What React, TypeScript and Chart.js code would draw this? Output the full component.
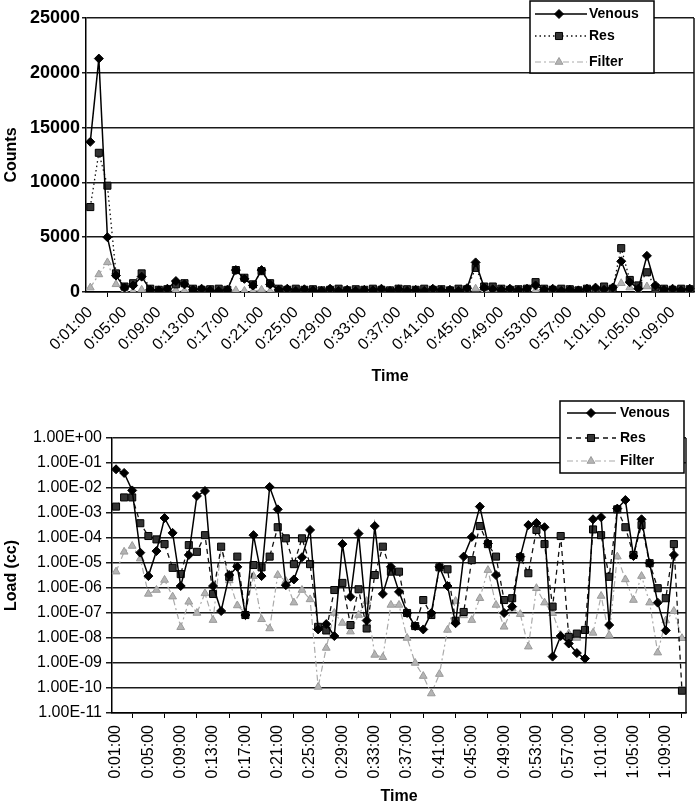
import React, { useEffect, useRef } from 'react';
import { Chart, registerables } from 'chart.js';
import { drawPoint } from 'chart.js/helpers';

Chart.register(...registerables);

const timeLabels = [
  '0:01:00', '0:02:00', '0:03:00', '0:04:00', '0:05:00', '0:06:00', '0:07:00', '0:08:00', '0:09:00', '0:10:00',
  '0:11:00', '0:12:00', '0:13:00', '0:14:00', '0:15:00', '0:16:00', '0:17:00', '0:18:00', '0:19:00', '0:20:00',
  '0:21:00', '0:22:00', '0:23:00', '0:24:00', '0:25:00', '0:26:00', '0:27:00', '0:28:00', '0:29:00', '0:30:00',
  '0:31:00', '0:32:00', '0:33:00', '0:34:00', '0:35:00', '0:36:00', '0:37:00', '0:38:00', '0:39:00', '0:40:00',
  '0:41:00', '0:42:00', '0:43:00', '0:44:00', '0:45:00', '0:46:00', '0:47:00', '0:48:00', '0:49:00', '0:50:00',
  '0:51:00', '0:52:00', '0:53:00', '0:54:00', '0:55:00', '0:56:00', '0:57:00', '0:58:00', '0:59:00', '1:00:00',
  '1:01:00', '1:02:00', '1:03:00', '1:04:00', '1:05:00', '1:06:00', '1:07:00', '1:08:00', '1:09:00', '1:10:00',
  '1:11:00',
];

// Top chart: Counts
const countsVenous = [
  13700, 21300, 5000, 1500, 400, 600, 1400, 200, 150, 300,
  1000, 700, 200, 300, 150, 100, 200, 2000, 1200, 600,
  2000, 700, 200, 300, 100, 250, 150, 100, 300, 100,
  200, 100, 200, 150, 300, 100, 250, 100, 200, 100,
  300, 150, 200, 100, 350, 2700, 400, 250, 200, 300,
  150, 300, 600, 200, 300, 100, 200, 150, 300, 400,
  200, 400, 2800, 900, 300, 3300, 600, 200, 300, 150,
  300,
];
const countsRes = [
  7750, 12700, 9700, 1700, 500, 800, 1700, 300, 200, 250,
  700, 800, 300, 200, 250, 300, 200, 2000, 1300, 700,
  1900, 800, 300, 200, 300, 200, 250, 150, 200, 300,
  150, 250, 200, 300, 200, 150, 300, 250, 200, 300,
  200, 250, 150, 300, 250, 2200, 500, 500, 300, 200,
  250, 300, 900, 300, 200, 300, 250, 150, 300, 200,
  500, 300, 4000, 1100, 600, 1800, 400, 300, 200, 300,
  250,
];
const countsFilter = [
  400, 1600, 2700, 700, 150, 50, 200, 50, 100, 50,
  150, 80, 50, 100, 60, 120, 50, 150, 100, 60,
  200, 80, 50, 100, 60, 120, 50, 100, 60, 50,
  120, 60, 100, 50, 120, 60, 100, 50, 120, 60,
  100, 50, 120, 60, 100, 300, 100, 60, 120, 50,
  100, 60, 150, 80, 50, 120, 60, 100, 50, 120,
  100, 60, 800, 400, 100, 500, 120, 60, 100, 50,
  100,
];

// Bottom chart: Load (cc)
const loadVenous = [
  5.6e-2, 4e-2, 8e-3, 2.6e-5, 3e-6, 3e-5, 6.3e-4, 1.6e-4, 1.2e-6, 2.1e-5,
  4.8e-3, 7.6e-3, 1.2e-6, 1.2e-7, 3.3e-6, 7e-6, 8.3e-8, 1.3e-4, 3e-6, 1.1e-2,
  1.4e-3, 1.3e-6, 2.2e-6, 1.7e-5, 2.1e-4, 2.2e-8, 3.6e-8, 1.2e-8, 5.7e-5, 4.5e-7,
  1.5e-4, 5e-8, 3e-4, 5.8e-7, 7e-6, 7e-7, 1e-7, 3e-8, 2.2e-8, 1e-7,
  7e-6, 1.2e-6, 3.9e-8, 1.8e-5, 1.1e-4, 1.8e-3, 6e-5, 3.3e-6, 1e-7, 1.8e-7,
  1.8e-5, 3.3e-4, 4e-4, 2.7e-4, 1.8e-9, 1.2e-8, 6e-9, 2.5e-9, 1.5e-9, 5.6e-4,
  6.8e-4, 3.3e-8, 1.5e-3, 3.3e-3, 1.9e-5, 5.6e-4, 9.8e-6, 2.6e-7, 2e-8, 2.1e-5,
  null,
];
const loadRes = [
  1.8e-3, 4.2e-3, 4.2e-3, 3.9e-4, 1.2e-4, 8.8e-5, 5.7e-5, 6.4e-6, 3.6e-6, 5.2e-5,
  2.8e-5, 1.3e-4, 5.8e-7, 4.5e-5, 2.8e-6, 1.8e-5, 8.3e-8, 8.3e-6, 6.7e-6, 1.8e-5,
  2.7e-4, 9.7e-5, 9e-6, 9.7e-5, 9e-6, 2.8e-8, 2e-8, 8.3e-7, 1.6e-6, 3.3e-8,
  8.9e-7, 2.4e-8, 3.3e-6, 4.5e-5, 4.5e-6, 4.5e-6, 1e-7, 3e-8, 3.3e-7, 8.3e-8,
  6.7e-6, 5.6e-6, 4.9e-8, 1.1e-7, 1.3e-5, 3e-4, 5.7e-5, 1.8e-5, 3.3e-7, 3.9e-7,
  1.7e-5, 3.9e-6, 2.1e-4, 5.7e-5, 1.8e-7, 1.2e-4, 1.1e-8, 1.5e-8, 2.1e-8, 2.2e-4,
  1.3e-4, 2.8e-6, 1.4e-3, 2.7e-4, 2.1e-5, 3.3e-4, 9.8e-6, 9.8e-7, 3.9e-7, 5.7e-5,
  7.8e-11,
];
const loadFilter = [
  4.5e-6, 2.8e-5, 4.8e-5, 1.5e-5, 5.8e-7, 8.3e-7, 2.1e-6, 4.5e-7, 2.7e-8, 2.8e-7,
  1e-7, 6.1e-7, 5.2e-8, 4e-5, 2e-6, 2e-7, 1e-7, 3e-6, 5.6e-8, 2.4e-8,
  3.3e-6, 1.9e-6, 2.6e-7, 8.3e-7, 3.5e-7, 1.1e-10, 4e-9, 1e-7, 4e-8, 1.8e-8,
  8.3e-8, 3e-7, 2.1e-9, 1.7e-9, 2.1e-7, 2.1e-7, 1e-8, 1e-9, 3e-10, 6e-11,
  3.6e-10, 2.1e-8, 3e-7, 8e-8, 5.2e-8, 3.9e-7, 5.2e-6, 2.1e-7, 2.8e-8, 1.5e-7,
  9e-8, 4.5e-9, 9.8e-7, 2.6e-7, 9.8e-8, 1.3e-8, 1.5e-8, 1e-8, 2e-8, 1.6e-8,
  4.8e-7, 1.3e-8, 1.8e-5, 2.2e-6, 3.3e-7, 3e-6, 2.6e-7, 2.6e-9, 5e-8, 1.2e-7,
  9.8e-9,
];

const countTicks = [0, 5000, 10000, 15000, 20000, 25000];
const loadExponents = [0, -1, -2, -3, -4, -5, -6, -7, -8, -9, -10, -11];

const FONT = '"Liberation Sans", Arial, Helvetica, sans-serif';

function fmtExp(v: number): string {
  const e = Math.round(Math.log10(v));
  const m = v / Math.pow(10, e);
  const sign = e < 0 ? '-' : '+';
  const a = Math.abs(e);
  return m.toFixed(2) + 'E' + sign + (a < 10 ? '0' + a : String(a));
}

const framePlugin = {
  id: 'frameLegend',
  afterDraw(chart: any, _args: any, opts: any) {
    const ctx = chart.ctx;
    const ca = chart.chartArea;
    ctx.save();
    // right plot border
    ctx.strokeStyle = '#111';
    ctx.lineWidth = 1.5;
    ctx.beginPath();
    ctx.moveTo(ca.right, ca.top);
    ctx.lineTo(ca.right, ca.bottom);
    ctx.stroke();
    // legend
    const { left, top, width, height, rows, lineX0, lineX1, markX, textX } = opts;
    ctx.fillStyle = '#fff';
    ctx.fillRect(left, top, width, height);
    ctx.strokeStyle = '#000';
    ctx.lineWidth = 1.5;
    ctx.strokeRect(left, top, width, height);
    chart.data.datasets.forEach((ds: any, i: number) => {
      const y = top + rows[i];
      ctx.beginPath();
      ctx.setLineDash(ds.borderDash || []);
      ctx.strokeStyle = ds.borderColor;
      ctx.lineWidth = ds.borderWidth;
      ctx.moveTo(left + lineX0, y);
      ctx.lineTo(left + lineX1, y);
      ctx.stroke();
      ctx.setLineDash([]);
      ctx.fillStyle = ds.pointBackgroundColor;
      ctx.strokeStyle = ds.pointBorderColor;
      ctx.lineWidth = 1;
      drawPoint(ctx, { pointStyle: ds.pointStyle, radius: ds.pointRadius, rotation: 0, borderWidth: 1 }, left + markX, y);
      ctx.fillStyle = '#000';
      ctx.font = 'bold 14px ' + FONT;
      ctx.textAlign = 'left';
      ctx.textBaseline = 'middle';
      ctx.fillText(ds.label, left + textX, y);
    });
    ctx.restore();
  },
};

function makeDatasets(v: any[], r: any[], f: any[], resDash: number[]) {
  return [
    {
      label: 'Venous',
      data: v,
      borderColor: '#000',
      borderWidth: 1.5,
      pointStyle: 'rectRot',
      pointRadius: 4.5,
      pointBackgroundColor: '#000',
      pointBorderColor: '#000',
      pointBorderWidth: 1,
      tension: 0,
    },
    {
      label: 'Res',
      data: r,
      borderColor: '#111',
      borderWidth: 1.3,
      borderDash: resDash,
      pointStyle: 'rect',
      pointRadius: 5,
      pointBackgroundColor: '#333',
      pointBorderColor: '#000',
      pointBorderWidth: 1,
      tension: 0,
    },
    {
      label: 'Filter',
      data: f,
      borderColor: '#aaa',
      borderWidth: 1.2,
      borderDash: [6, 3, 2, 3],
      pointStyle: 'triangle',
      pointRadius: 4.5,
      pointBackgroundColor: '#b4b4b4',
      pointBorderColor: '#9a9a9a',
      pointBorderWidth: 1,
      tension: 0,
    },
  ];
}

function xScale(rotation: number, tickPad: number, height: number, titleLH: number) {
  return {
    type: 'category',
    offset: true,
    grid: {
      display: true,
      offset: true,
      drawOnChartArea: false,
      drawTicks: true,
      tickLength: 5,
      color: '#000',
      lineWidth: 1,
    },
    border: { display: true, color: '#000', width: 1.5 },
    ticks: {
      autoSkip: false,
      minRotation: rotation,
      maxRotation: rotation,
      padding: tickPad,
      color: '#000',
      font: { family: FONT, size: 16 },
      callback: (_v: any, i: number) => (i % 4 === 0 ? timeLabels[i] : null),
    },
    title: {
      display: true,
      text: 'Time',
      color: '#000',
      padding: { top: 0, bottom: 0 },
      font: { family: FONT, size: 16, weight: 'bold', lineHeight: titleLH },
    },
    afterFit: (s: any) => {
      s.height = height;
    },
  };
}

function ChartCanvas({ config, width, height }: { config: any; width: number; height: number }) {
  const ref = useRef<HTMLCanvasElement>(null);
  useEffect(() => {
    if (!ref.current) return;
    const c = new Chart(ref.current, config);
    return () => c.destroy();
  }, []);
  return <canvas ref={ref} width={width} height={height} style={{ display: 'block', width, height }} />;
}

export default function App() {
  useEffect(() => {
    document.body.style.margin = '0';
    document.body.style.background = '#fff';
  }, []);

  const topConfig = {
    type: 'line',
    data: { labels: timeLabels, datasets: makeDatasets(countsVenous, countsRes, countsFilter, [1.5, 3]) },
    options: {
      animation: false,
      responsive: false,
      devicePixelRatio: 1,
      layout: { padding: { left: 0, right: 1, top: 18, bottom: 14 } },
      plugins: {
        legend: { display: false },
        tooltip: { enabled: false },
        frameLegend: {
          left: 530, top: 1, width: 124, height: 72,
          rows: [13, 35, 61], lineX0: 5, lineX1: 57, markX: 29, textX: 59,
        },
      },
      scales: {
        x: xScale(45, 6, 94, 1.2),
        y: {
          type: 'linear',
          min: 0,
          max: 25000,
          afterBuildTicks: (s: any) => {
            s.ticks = countTicks.map((v) => ({ value: v }));
          },
          grid: { color: '#1a1a1a', lineWidth: 1.5, drawTicks: true, tickLength: 4 },
          border: { display: true, color: '#000', width: 1.5 },
          ticks: {
            padding: 2,
            color: '#000',
            font: { family: FONT, size: 18, weight: 'bold' },
            callback: (v: any) => String(v),
          },
          title: {
            display: true,
            text: 'Counts',
            color: '#000',
            padding: { top: 2, bottom: 0 },
            font: { family: FONT, size: 16, weight: 'bold' },
          },
          afterFit: (s: any) => {
            s.width = 86;
          },
        },
      },
    },
    plugins: [framePlugin],
  };

  const bottomConfig = {
    type: 'line',
    data: { labels: timeLabels, datasets: makeDatasets(loadVenous, loadRes, loadFilter, [5, 4]) },
    options: {
      animation: false,
      responsive: false,
      devicePixelRatio: 1,
      layout: { padding: { left: 0, right: 14, top: 38, bottom: 0 } },
      plugins: {
        legend: { display: false },
        tooltip: { enabled: false },
        frameLegend: {
          left: 560, top: 1, width: 124, height: 72,
          rows: [12, 37, 60], lineX0: 7, lineX1: 56, markX: 31, textX: 60,
        },
      },
      scales: {
        x: xScale(90, 7, 91, 0.9),
        y: {
          type: 'logarithmic',
          min: 1e-11,
          max: 1,
          afterBuildTicks: (s: any) => {
            s.ticks = loadExponents.map((e) => ({ value: Math.pow(10, e) }));
          },
          grid: { color: '#1a1a1a', lineWidth: 1.5, drawTicks: true, tickLength: 6 },
          border: { display: true, color: '#000', width: 1.5 },
          ticks: {
            padding: 4,
            color: '#000',
            font: { family: FONT, size: 16 },
            callback: (v: any) => fmtExp(Number(v)),
          },
          title: {
            display: true,
            text: 'Load (cc)',
            color: '#000',
            padding: { top: 2, bottom: 0 },
            font: { family: FONT, size: 16, weight: 'bold' },
          },
          afterFit: (s: any) => {
            s.width = 112;
          },
        },
      },
    },
    plugins: [framePlugin],
  };

  return (
    <div style={{ width: 700, height: 804, background: '#fff' }}>
      <ChartCanvas config={topConfig} width={700} height={400} />
      <ChartCanvas config={bottomConfig} width={700} height={404} />
    </div>
  );
}
